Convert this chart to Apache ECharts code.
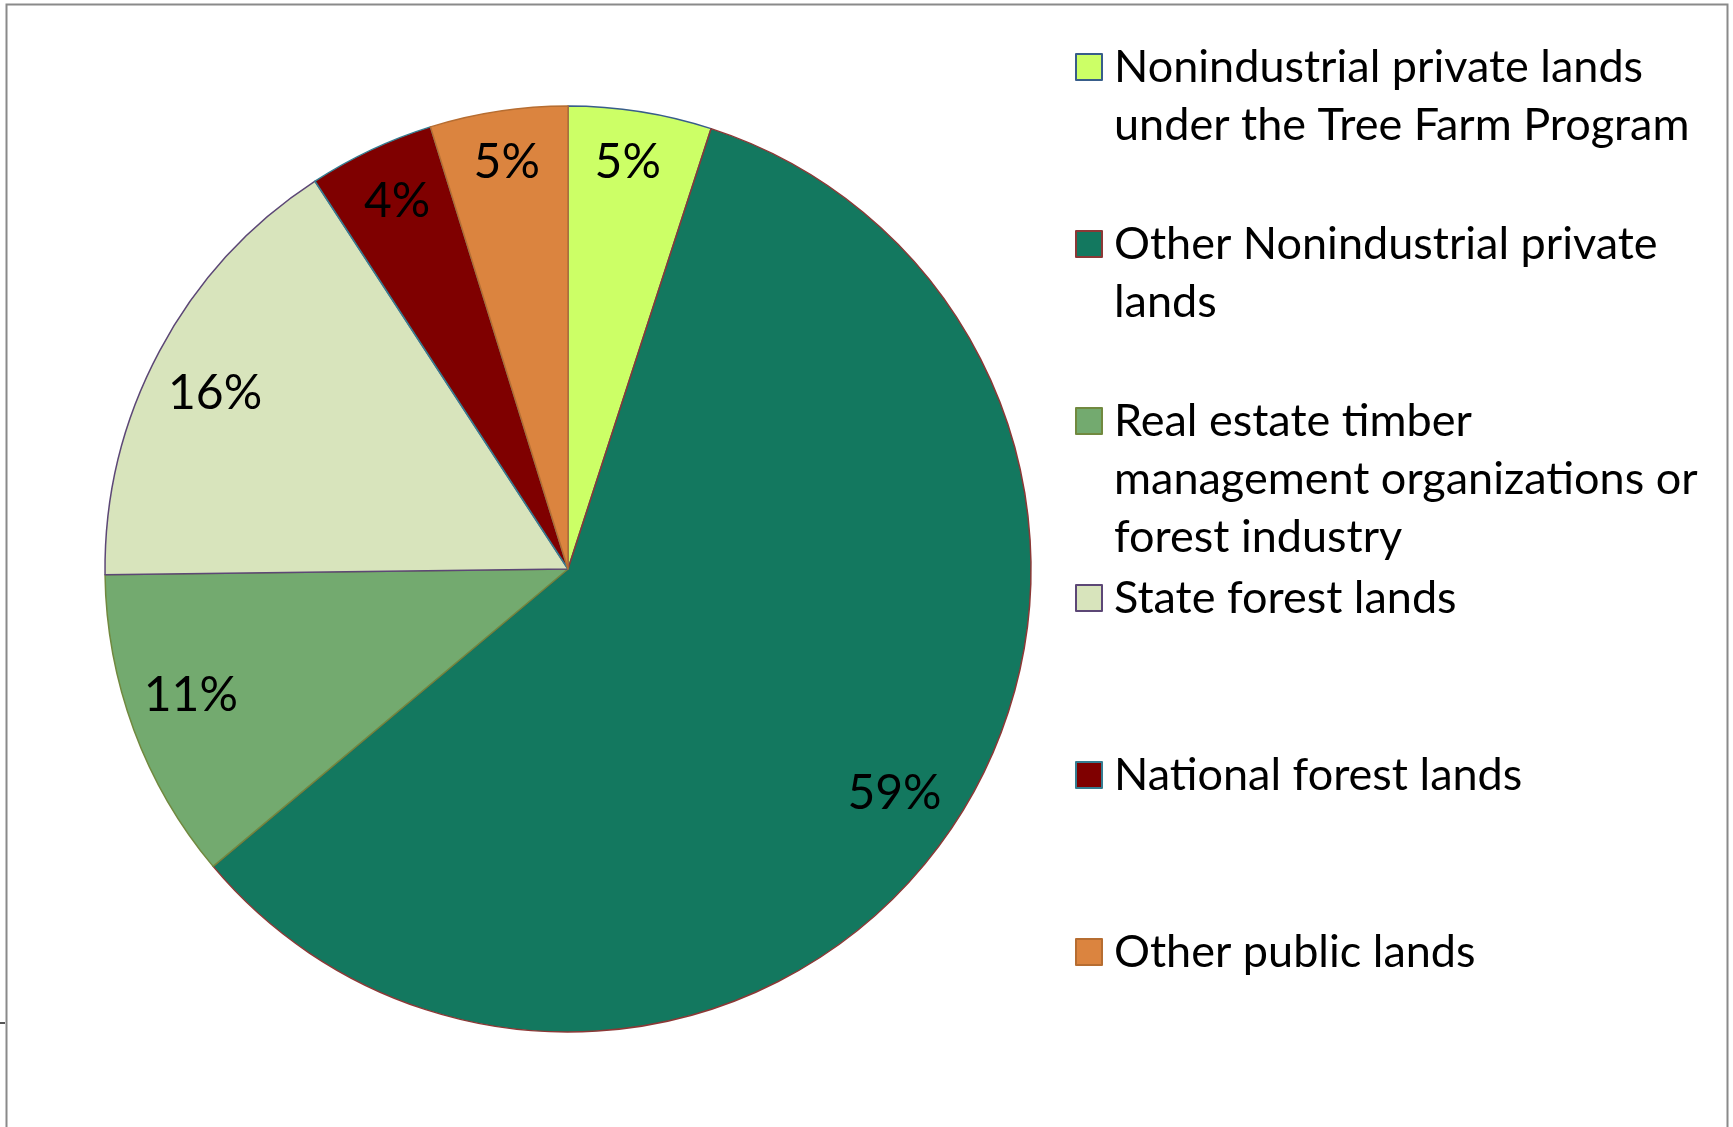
<!DOCTYPE html>
<html>
<head>
<meta charset="utf-8">
<title>Forest land ownership</title>
<script src="https://cdn.jsdelivr.net/npm/echarts@6/dist/echarts.min.js"></script>
<style>
  html, body { margin: 0; padding: 0; background: #fff; }
  #pie { width: 1733px; height: 1127px; }
</style>
</head>
<body>
<div id="pie"></div>
<script>
// data (share of land, percent)
var names = [
  'Nonindustrial private lands\nunder the Tree Farm Program',
  'Other Nonindustrial private\nlands',
  'Real estate timber\nmanagement organizations or\nforest industry',
  'State forest lands',
  'National forest lands',
  'Other public lands'
];
var values = [5.0, 58.9, 10.9, 16.0, 4.4, 4.8];
var fillColors = ['#CCFF66', '#13785F', '#73AA6F', '#D8E4BC', '#7F0000', '#DB843F'];
var edgeColors = ['#385D8A', '#8C3836', '#71893F', '#5C4776', '#357D91', '#B66D31'];

var font = 'Lato';
var lh = 58;        // legend line height
var cx = 568, cy = 569, R = 463;
var firstIcon = 67, step = 177;
// small nudges so the % labels sit where excel put them
var labelNudge = [[-3, -10], [-6, 0], [-1, -13], [1, 13], [0, -4], [-1, -10]];

var myChart = echarts.init(document.getElementById('pie'));

var pieData = names.map(function (n, i) {
  return {
    name: n,
    value: values[i],
    itemStyle: { color: fillColors[i], borderColor: edgeColors[i], borderWidth: 1.5 }
  };
});
var labelData = names.map(function (n, i) {
  return { name: n, value: values[i], label: { offset: labelNudge[i] } };
});

// one legend per entry so they sit evenly, icon next to first line
var legends = names.map(function (n, i) {
  var lines = n.split('\n').length;
  return {
    data: [n],
    orient: 'vertical',
    left: 1075,
    top: firstIcon + step * i - (2 * lines - 1) * lh / 2,
    padding: 0,
    icon: 'rect',
    itemWidth: 26,
    itemHeight: 26,
    selectedMode: false,
    // blank lines on top so the first line lines up with the square
    formatter: function (name) {
      var pre = '';
      for (var k = 1; k < lines; k++) pre += '\n';
      return pre + name;
    },
    textStyle: {
      fontFamily: font,
      fontSize: 45,
      color: '#000',
      lineHeight: lh,
      padding: [0, 0, 0, 7]
    }
  };
});

myChart.setOption({
  animation: false,
  backgroundColor: '#fff',
  legend: legends,
  graphic: [
    {
      type: 'rect',
      shape: { x: 6.5, y: 4.5, width: 1721, height: 1200 },
      style: { fill: 'none', stroke: '#8a8a8a', lineWidth: 2 },
      silent: true
    },
    {
      type: 'line',
      shape: { x1: 0, y1: 1023, x2: 5, y2: 1023 },
      style: { stroke: '#555', lineWidth: 2 },
      silent: true
    }
  ],
  series: [
    {
      name: 'land',
      type: 'pie',
      center: [cx, cy],
      radius: [0, R],
      startAngle: 90,
      clockwise: true,
      label: { show: false },
      labelLine: { show: false },
      emphasis: { disabled: true },
      data: pieData
    },
    {
      name: 'labels',
      type: 'pie',
      center: [cx, cy],
      radius: [R * 0.72, R],
      startAngle: 90,
      clockwise: true,
      silent: true,
      itemStyle: { color: 'rgba(0,0,0,0)', borderWidth: 0 },
      label: {
        show: true,
        position: 'inside',
        fontFamily: font,
        fontSize: 48,
        color: '#000',
        formatter: function (p) {
          return Math.round(p.percent) + '%';
        }
      },
      labelLine: { show: false },
      emphasis: { disabled: true },
      data: labelData
    }
  ]
});
</script>
</body>
</html>
